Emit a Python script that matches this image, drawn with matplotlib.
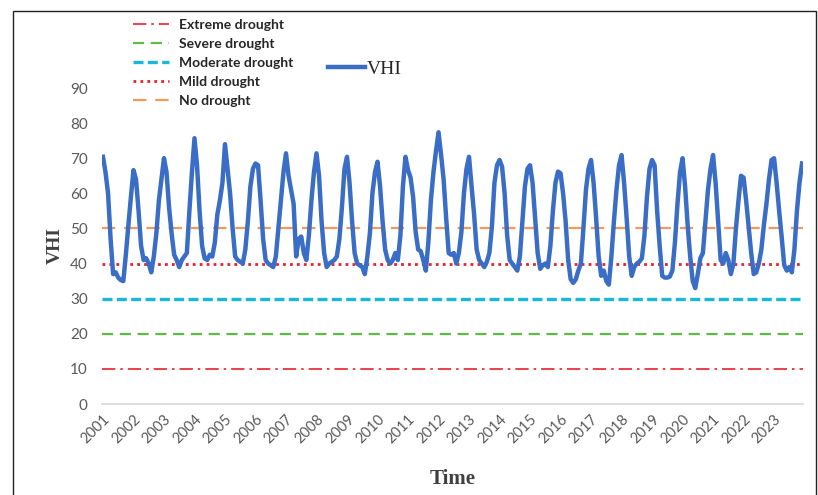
import matplotlib
matplotlib.use("Agg")
import matplotlib.pyplot as plt
from matplotlib.patches import Rectangle
from matplotlib.lines import Line2D

# data
years = list(range(2001, 2024))

# monthly VHI, one row per year (Jan..Dec)
vhi = [
    70.4, 66, 60, 47, 37, 37.5, 36, 35.3, 35, 42.5, 51, 59,        # 2001
    66.6, 64, 55, 45, 41, 41.5, 40, 37.5, 42, 48.6, 58, 64,        # 2002
    70, 66, 56, 48.6, 42.5, 41, 39, 41, 42, 43, 55, 66,            # 2003
    75.7, 68, 55, 45, 41.5, 41, 42.5, 42, 46, 54, 58, 63,          # 2004
    74, 67, 60, 50, 42, 41, 40.5, 40, 44, 52, 62, 67,              # 2005
    68.5, 68, 58, 47, 41, 40, 39.5, 39, 42, 50, 58, 66,            # 2006
    71.4, 65, 61, 57, 42, 47, 47.7, 43, 41, 48, 58, 66,            # 2007
    71.4, 65, 52, 43, 39, 40, 40.5, 41, 42, 47, 56, 67,            # 2008
    70.4, 63, 52, 43, 40, 39.5, 39, 37, 42, 48.6, 60, 66,          # 2009
    69, 62, 52, 44, 41, 40, 41, 43, 41, 48, 62, 70.4,              # 2010
    66.6, 64.5, 59, 49, 44, 43.5, 41, 38, 46, 58, 66, 72,          # 2011
    77.4, 71, 64, 53, 43, 42.5, 43, 40, 43, 49, 60, 67,            # 2012
    70.4, 62, 54, 44, 41, 40, 39, 40.5, 43, 50.5, 63, 68,          # 2013
    69.5, 67.6, 60, 48, 41, 40, 39, 38, 42, 52, 62, 67,            # 2014
    68, 63, 53, 43, 38.5, 39.5, 40, 39, 45, 55, 63, 66.2,          # 2015
    65.7, 60, 52, 41, 35.5, 34.5, 35.5, 38, 40, 50, 61, 67,        # 2016
    69.5, 63, 53, 42, 36.5, 38, 35, 34, 42, 52, 61, 68,            # 2017
    70.9, 63, 53, 42, 36.5, 39, 40, 40.5, 41.5, 48, 59, 67,        # 2018
    69.5, 68, 55, 45, 36.5, 36, 36, 36.3, 38, 46, 57, 66,          # 2019
    70, 62, 51, 42, 35, 33, 37, 41.5, 43, 52, 61, 67,              # 2020
    70.9, 63, 52, 41, 40, 43, 41, 37, 40, 50, 58, 65,              # 2021
    64.5, 58, 50.5, 43, 37, 37.5, 40, 44, 51, 57, 64, 69.5,        # 2022
    70, 63, 55, 47.5, 39.5, 38, 39, 37.5, 44, 55, 63, 68.5,        # 2023
]

class_names = ["Extreme drought", "Severe drought", "Moderate drought",
               "Mild drought", "No drought"]
class_levels = [10, 20, 30, 40, 50]
class_colors = ["#E8202A", "#5DBB46", "#17B8DC", "#E8202A", "#F29A5C"]
class_styles = [(0, (8, 3, 1.5, 3)), (0, (5, 3)), (0, (3, 1.3)), (0, (1, 1.5)), (0, (6, 4))]
class_widths = [1.2, 1.6, 2.4, 2.0, 1.6]

months = list(range(len(vhi)))

plt.rcParams["font.family"] = ["Lato", "DejaVu Sans"]

fig = plt.figure(figsize=(8.18, 4.95), dpi=100)
ax = fig.add_axes([101.7 / 818, 91 / 495, 701.6 / 818, 316 / 495])

# frame around the figure
fig.patches.append(Rectangle((13 / 818, -0.05), 803 / 818, 1.05 - 11 / 495,
                             transform=fig.transFigure, fill=False,
                             edgecolor="#222222", linewidth=1.0))

class_handles = []
for name, lev, col, ls, lw in zip(class_names, class_levels, class_colors, class_styles, class_widths):
    ax.axhline(lev, color=col, linestyle=ls, linewidth=lw, zorder=1)
    class_handles.append(Line2D([], [], color=col, linestyle=ls, linewidth=lw, label=name))

vhi_line, = ax.plot(months, vhi, color="#3A6EC6", linewidth=3.2, label="VHI", zorder=3)

ax.set_xlim(-0.5, len(vhi) - 0.5)
ax.set_ylim(0, 90)
ax.set_yticks(range(0, 91, 10))
ax.set_xticks([12 * i for i in range(len(years))])
ax.set_xticklabels([str(y) for y in years], rotation=45, ha="right", va="top",
                   rotation_mode="anchor")
ax.tick_params(axis="both", length=0, colors="#595959", labelsize=11)
ax.tick_params(axis="y", pad=10)
ax.tick_params(axis="x", pad=6, labelsize=10.5)

for s in ["top", "right", "left"]:
    ax.spines[s].set_visible(False)
ax.spines["bottom"].set_color("#D9D9D9")
ax.spines["bottom"].set_linewidth(1.2)

ax.set_xlabel("Time", family="Liberation Serif", fontweight="bold", fontsize=15,
              color="#404040", labelpad=16)
ax.set_ylabel("VHI", family="Liberation Serif", fontweight="bold", fontsize=14,
              color="#404040", labelpad=4.5)

leg1 = fig.legend(handles=class_handles, loc="upper left",
                  bbox_to_anchor=(133 / 818, 1 - 19 / 495), frameon=False,
                  prop={"family": "Lato", "weight": "bold", "size": 10},
                  handlelength=2.6, handletextpad=0.7, labelspacing=0.5,
                  borderpad=0, borderaxespad=0)
for t in leg1.get_texts():
    t.set_color("#262626")

leg2 = fig.legend(handles=[vhi_line], loc="upper left",
                  bbox_to_anchor=(328 / 818, 1 - 60 / 495), frameon=False,
                  prop={"family": "Liberation Serif", "size": 14},
                  handlelength=1.9, handletextpad=0.1,
                  borderpad=0, borderaxespad=0)
for t in leg2.get_texts():
    t.set_color("#262626")

fig.savefig("out.png", dpi=100)
